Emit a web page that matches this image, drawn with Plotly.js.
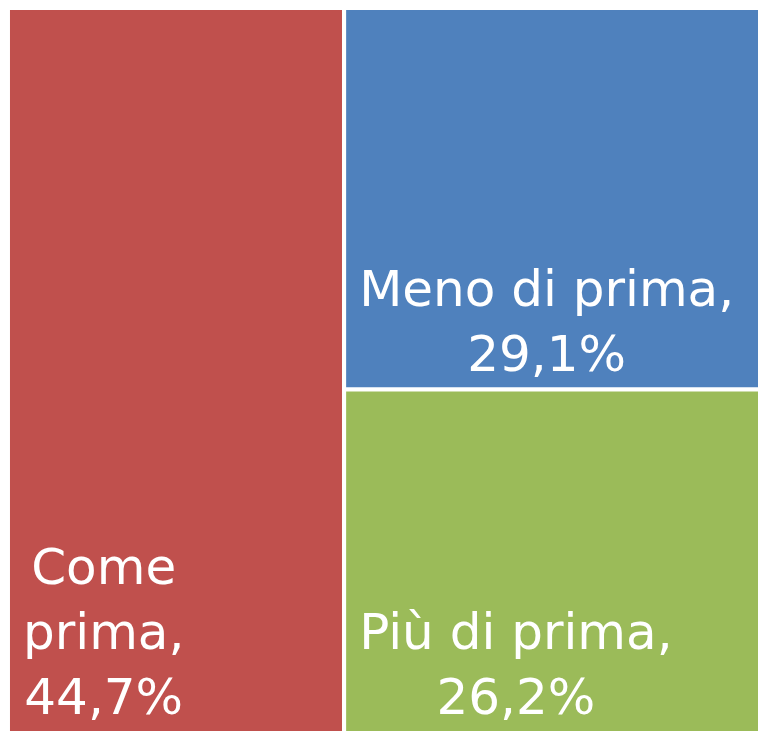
<!DOCTYPE html>
<html>
<head>
<meta charset="utf-8">
<script src="https://cdn.plot.ly/plotly-3.0.1.min.js"></script>
<style>html,body{margin:0;padding:0;background:#fff;}</style>
</head>
<body>
<div id="chart" style="width:760px;height:733px;"></div>
<script>
const categories = ["Come prima", "Meno di prima", "Più di prima"];
const displayLabels = ["Come<br>prima,", "Meno di prima,", "Più di prima,"];
const values = [44.7, 29.1, 26.2];
const colors = ["#C0504D", "#4F81BD", "#9BBB59"];
const groupOf = ["root", "altro", "altro"];

const fmt = v => v.toFixed(1).replace(".", ",") + "%";
const total = values.reduce((a, b) => a + b, 0);
const altroTotal = values.reduce((a, v, i) => a + (groupOf[i] === "altro" ? v : 0), 0);

const ids = ["root"], labels = [""], parents = [""], vals = [total], texts = [""], markerColors = ["#FFFFFF"];
let altroAdded = false;
categories.forEach(function (c, i) {
  if (groupOf[i] === "altro" && !altroAdded) {
    ids.push("altro"); labels.push(""); parents.push("root"); vals.push(altroTotal);
    texts.push(""); markerColors.push("#FFFFFF");
    altroAdded = true;
  }
  ids.push(c); labels.push(c); parents.push(groupOf[i]); vals.push(values[i]);
  texts.push(displayLabels[i] + "<br>" + fmt(values[i])); markerColors.push(colors[i]);
});

const trace = {
  type: "treemap",
  ids: ids,
  labels: labels,
  parents: parents,
  values: vals,
  text: texts,
  branchvalues: "total",
  textinfo: "text",
  textposition: "bottom left",
  sort: false,
  hoverinfo: "none",
  tiling: { packing: "squarify", pad: 0 },
  marker: {
    colors: markerColors,
    line: { color: "#FFFFFF", width: 4 },
    pad: { t: 0, l: 0, r: 0, b: 0 }
  },
  pathbar: { visible: false },
  textfont: { family: "DejaVu Sans", size: 50, color: "#FFFFFF" },
  domain: { x: [0.0105, 1.0], y: [0, 0.989] }
};

const layout = {
  width: 760,
  height: 733,
  margin: { l: 0, r: 0, t: 0, b: 0 },
  paper_bgcolor: "#FFFFFF",
  showlegend: false
};

Plotly.newPlot("chart", [trace], layout, { displayModeBar: false, staticPlot: true }).then(function (gd) {
  // center the lines of each label block, keeping the block at the bottom-left
  gd.querySelectorAll("text.slicetext").forEach(function (t) {
    try {
      if (!t.textContent) return;
      const bb = t.getBBox();
      const cx = bb.x + bb.width / 2;
      t.setAttribute("text-anchor", "middle");
      t.style.textAnchor = "middle";
      t.setAttribute("x", cx);
      t.querySelectorAll("tspan.line").forEach(function (s) { s.setAttribute("x", cx); });
      const tr = t.getAttribute("transform") || "";
      t.setAttribute("transform", "translate(12,-4) " + tr);
    } catch (e) {}
  });
});
</script>
</body>
</html>
